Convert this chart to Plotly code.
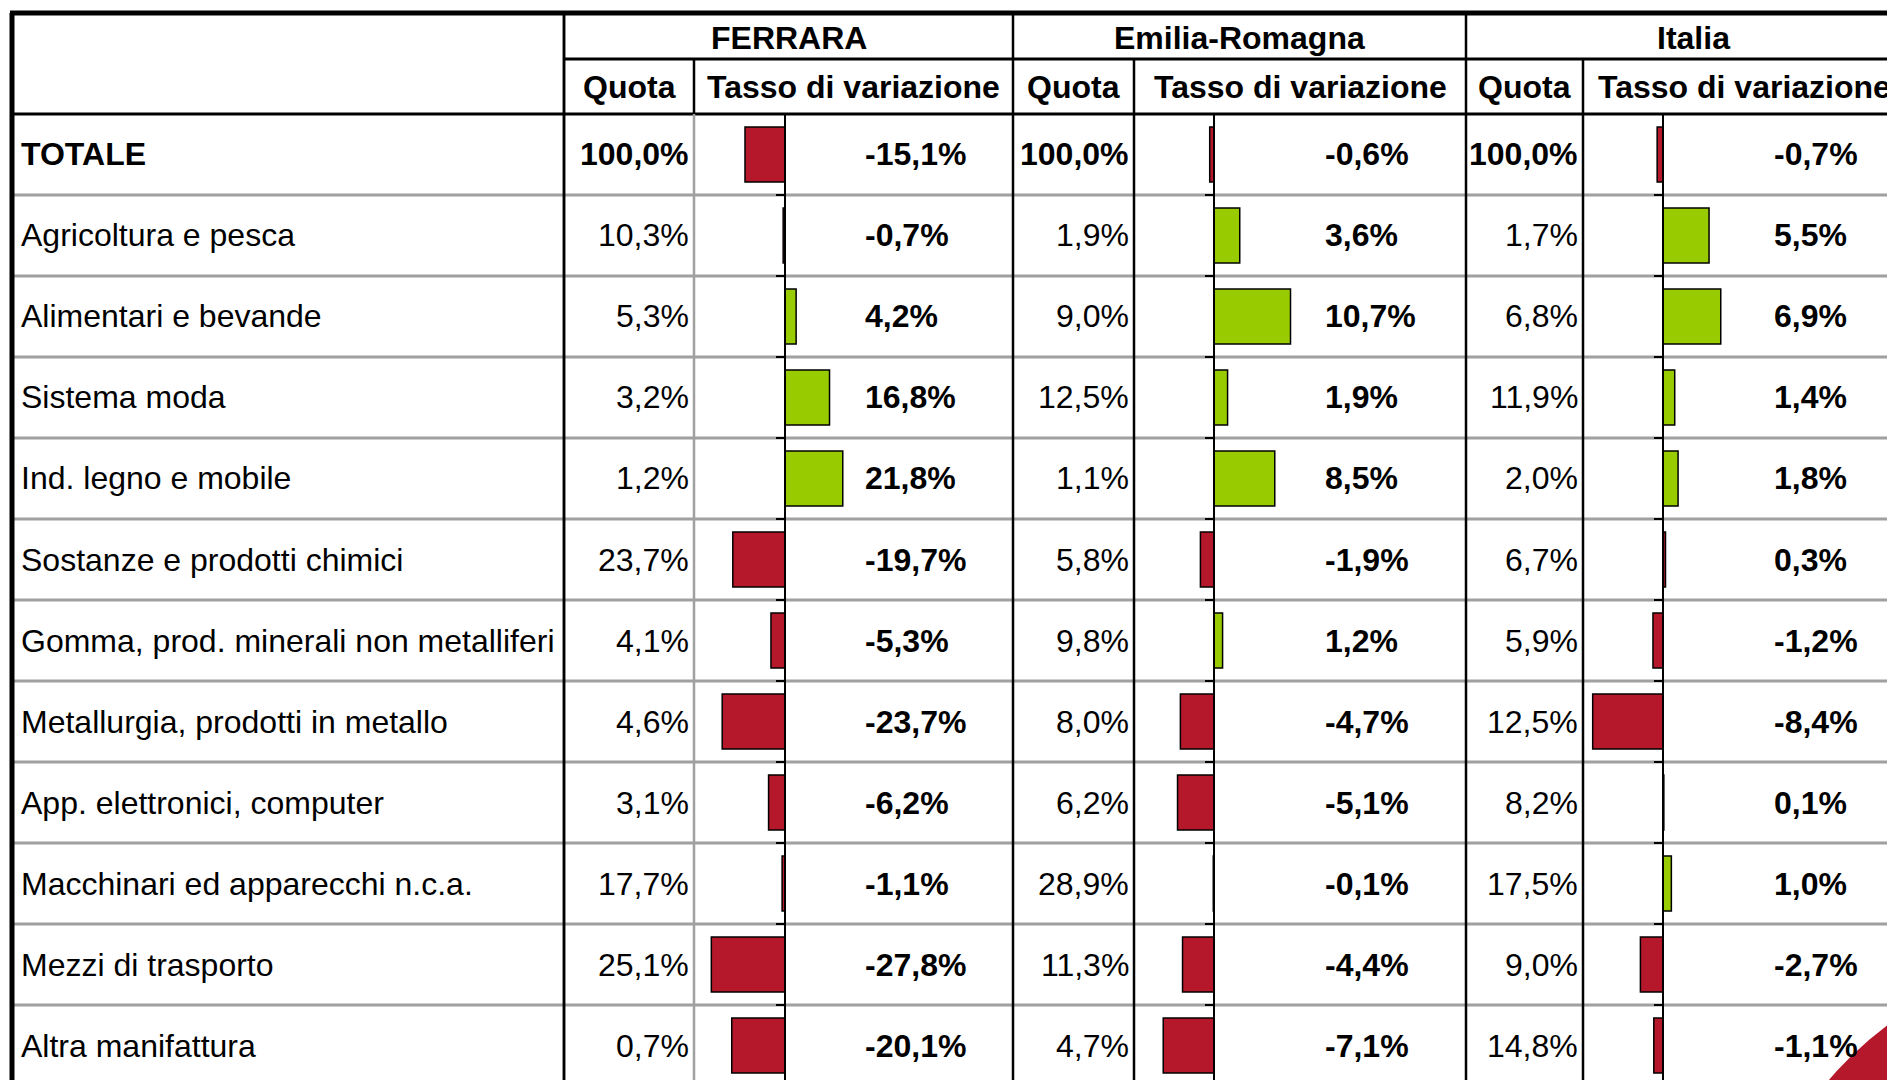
import plotly.graph_objects as go

# dati
settori = ["TOTALE", "Agricoltura e pesca", "Alimentari e bevande", "Sistema moda",
           "Ind. legno e mobile", "Sostanze e prodotti chimici",
           "Gomma, prod. minerali non metalliferi", "Metallurgia, prodotti in metallo",
           "App. elettronici, computer", "Macchinari ed apparecchi n.c.a.",
           "Mezzi di trasporto", "Altra manifattura"]
territori = ["FERRARA", "Emilia-Romagna", "Italia"]

quota_ferrara = [100.0, 10.3, 5.3, 3.2, 1.2, 23.7, 4.1, 4.6, 3.1, 17.7, 25.1, 0.7]
tasso_ferrara = [-15.1, -0.7, 4.2, 16.8, 21.8, -19.7, -5.3, -23.7, -6.2, -1.1, -27.8, -20.1]
quota_emilia = [100.0, 1.9, 9.0, 12.5, 1.1, 5.8, 9.8, 8.0, 6.2, 28.9, 11.3, 4.7]
tasso_emilia = [-0.6, 3.6, 10.7, 1.9, 8.5, -1.9, 1.2, -4.7, -5.1, -0.1, -4.4, -7.1]
quota_italia = [100.0, 1.7, 6.8, 11.9, 2.0, 6.7, 5.9, 12.5, 8.2, 17.5, 9.0, 14.8]
tasso_italia = [-0.7, 5.5, 6.9, 1.4, 1.8, 0.3, -1.2, -8.4, 0.1, 1.0, -2.7, -1.1]

W, H = 1895, 1080
OFF = 8  # margine del body nella pagina html
FONT = "Liberation Sans, Arial, sans-serif"
ROSSO = "#B5182A"
VERDE = "#99CC00"
GRIGIO = "#A0A0A0"

# geometria della tabella (pixel sullo schermo)
TOP, H1, H2, ROW = 13, 59, 114, 81
LEFT, LABEL_R = 12, 564
colonne = [
    dict(q0=564, q1=694, zero=785, t1=1013, scala=2.65, xt=863, xh=853, sep=GRIGIO),
    dict(q0=1013, q1=1134, zero=1214, t1=1466, scala=7.15, xt=1323, xh=1300, sep="black"),
    dict(q0=1466, q1=1583, zero=1663, t1=1921, scala=8.37, xt=1772, xh=1744, sep="black"),
]


def px(x):
    return (x - OFF) / W


def py(y):
    return 1 - (y - OFF) / H


def pct(v):
    return f"{v:.1f}%".replace(".", ",")


serie = [(quota_ferrara, tasso_ferrara), (quota_emilia, tasso_emilia), (quota_italia, tasso_italia)]
fuori_segno = {2: [5]}  # barre rosse nell'originale anche se positive

fig = go.Figure()
shapes = []
annotations = []


def linea(x0, y0, x1, y1, color="black", width=2):
    shapes.append(dict(type="line", xref="paper", yref="paper", x0=px(x0), y0=py(y0),
                       x1=px(x1), y1=py(y1), line=dict(color=color, width=width), layer="below"))


def testo(text, x, y, anchor="center", yref="paper"):
    annotations.append(dict(text=text, x=px(x), y=y, xref="paper", yref=yref, xanchor=anchor,
                            yanchor="middle", showarrow=False,
                            font=dict(family=FONT, size=32, color="black")))


n = len(settori)
y_fondo = (H + OFF - H2) / ROW - 0.5

for i, (col, (quota, tasso)) in enumerate(zip(colonne, serie)):
    xa = "x" if i == 0 else f"x{i + 1}"
    ya = "y" if i == 0 else f"y{i + 1}"
    colori = [ROSSO if (v < 0 or j in fuori_segno.get(i, [])) else VERDE for j, v in enumerate(tasso)]
    fig.add_trace(go.Bar(x=tasso, y=settori, orientation="h", xaxis=xa, yaxis=ya,
                         marker=dict(color=colori, line=dict(color="black", width=1.5)),
                         hoverinfo="skip"))
    destra = min(col["t1"], W + OFF)
    fig.update_layout(**{
        ("xaxis" if i == 0 else f"xaxis{i + 1}"): dict(
            domain=[px(col["q1"]), px(destra)],
            range=[-(col["zero"] - col["q1"]) / col["scala"], (destra - col["zero"]) / col["scala"]],
            visible=False, anchor=ya),
        ("yaxis" if i == 0 else f"yaxis{i + 1}"): dict(
            domain=[0, py(H2)], type="category", categoryorder="array", categoryarray=settori,
            range=[y_fondo, -0.5], anchor="free", position=px(col["zero"]),
            showline=True, linecolor="black", linewidth=2, showgrid=False, zeroline=False,
            ticks="outside", tickson="boundaries", ticklen=8, tickwidth=1.5, tickcolor="black",
            showticklabels=False),
    })

    # intestazioni
    testo(f"<b>{territori[i]}</b>", (col["q0"] + col["t1"]) / 2, py((TOP + H1) / 2 + 2))
    testo("<b>Quota</b>", (col["q0"] + col["q1"]) / 2, py((H1 + H2) / 2))
    testo("<b>Tasso di variazione</b>", col["xh"], py((H1 + H2) / 2))

    # valori
    for j, s in enumerate(settori):
        q = pct(quota[j])
        testo(f"<b>{q}</b>" if j == 0 else q, col["q1"] - 3, s, anchor="right", yref="y")
        testo(f"<b>{pct(tasso[j])}</b>", col["xt"], s, anchor="left", yref="y")

for j, s in enumerate(settori):
    testo(f"<b>{s}</b>" if j == 0 else s, 19, s, anchor="left", yref="y")

# righe della tabella
for k in range(1, n):
    yk = H2 + ROW * k
    if yk < H:
        linea(LEFT, yk, W + OFF, yk, GRIGIO, 3)
linea(LEFT - 2, TOP, W + OFF, TOP, width=5)
linea(LEFT, TOP, LEFT, H + OFF, width=5)
linea(LABEL_R, H1, W + OFF, H1, width=3)
linea(LEFT, H2, W + OFF, H2, width=3)
linea(LABEL_R, TOP, LABEL_R, H + OFF, width=2.5)
for col in colonne:
    linea(col["q0"], TOP, col["q0"], H + OFF, width=2.5)
    linea(col["q1"], H1, col["q1"], H2, width=2.5)
    linea(col["q1"], H2, col["q1"], H + OFF, col["sep"], 2.5)

# decorazione rossa in basso a destra
shapes.append(dict(type="path", xref="paper", yref="paper", layer="above",
                   path=f"M {px(1822)},{py(H + OFF)} Q {px(1856)},{py(1046)} {px(W + OFF)},{py(1014)} "
                        f"L {px(W + OFF)},{py(H + OFF)} Z",
                   fillcolor=ROSSO, line=dict(width=0)))

fig.update_layout(width=W, height=H, margin=dict(l=0, r=0, t=0, b=0),
                  paper_bgcolor="white", plot_bgcolor="rgba(0,0,0,0)",
                  showlegend=False, bargap=0.32, shapes=shapes, annotations=annotations)

fig.write_html("out.html")
